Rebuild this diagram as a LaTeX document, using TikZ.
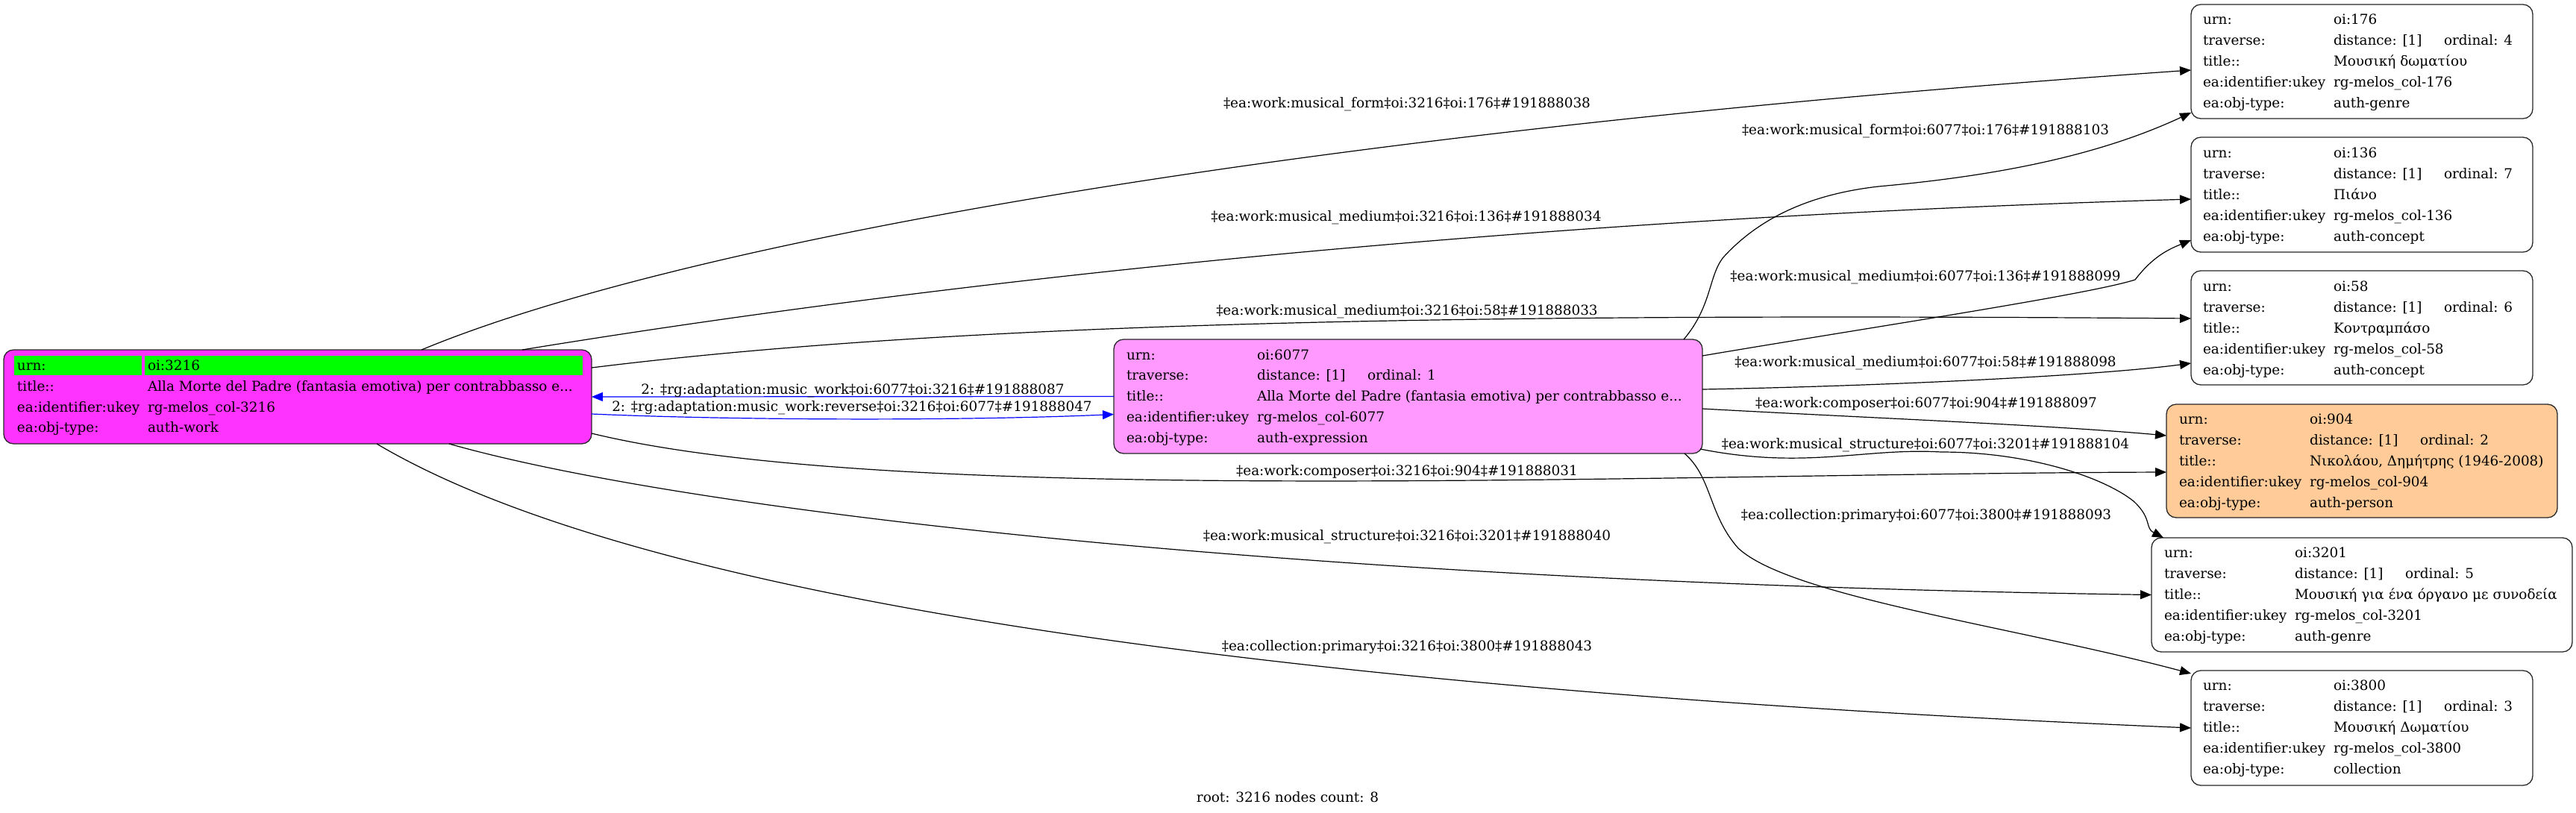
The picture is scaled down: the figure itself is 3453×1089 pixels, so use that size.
\documentclass[tikz,border=0pt]{standalone}
\usepackage{fontspec}
\setmainfont{DejaVu Serif}
\usetikzlibrary{arrows.meta,fit,calc}

\newcommand{\recfont}{\fontsize{9.2pt}{11pt}\selectfont}
\definecolor{workmag}{HTML}{FF33FF}
\definecolor{exprpink}{HTML}{FF99FF}
\definecolor{personpeach}{HTML}{FFCC99}
\definecolor{urngreen}{HTML}{00FF00}

\tikzset{
  txt/.style={inner sep=0pt, outer sep=0pt, anchor=base west, font=\recfont},
  lbl/.style={inner sep=0pt, outer sep=0pt, anchor=base, font=\recfont},
  box/.style={draw=black!85, line width=0.65pt, rounded corners=6.5pt, inner sep=0pt, outer sep=0pt},
  conn/.style={line width=0.6pt, -{Triangle[length=7.5pt,width=6pt]}},
  bconn/.style={conn, draw=blue},
}

% #1 prefix, #2 label x, #3 first baseline, #4 pitch, #5 urn, #6 ordinal, #7 title, #8 ukey, #9 type
\newcommand{\recfive}[9]{%
  \node[txt] (#1-k1) at (#2,#3) {urn:};
  \node[txt] (#1-v1) at ({#2+175},#3) {#5};
  \node[txt] (#1-k2) at (#2,{#3+#4}) {traverse:};
  \node[txt] (#1-v2) at ({#2+175},{#3+#4}) {distance: [1]};
  \node[txt] (#1-o2) at ({#2+323},{#3+#4}) {ordinal: #6};
  \node[txt] (#1-k3) at (#2,{#3+2*#4}) {title::};
  \node[txt] (#1-v3) at ({#2+175},{#3+2*#4}) {#7};
  \node[txt] (#1-k4) at (#2,{#3+3*#4}) {ea:identifier:ukey};
  \node[txt] (#1-v4) at ({#2+175},{#3+3*#4}) {#8};
  \node[txt] (#1-k5) at (#2,{#3+4*#4}) {ea:obj-type:};
  \node[txt] (#1-v5) at ({#2+175},{#3+4*#4}) {#9};
}

\begin{document}
\begin{tikzpicture}[x=0.5pt,y=-0.5pt]
\useasboundingbox (0,0) rectangle (3453,1089);

% ---------- record boxes ----------
\node[box, fill=workmag, fit={(5,469) (793,595)}] (n3216) {};
\node[box, fill=exprpink, fit={(1493,455) (2282,608)}] (n6077) {};
\node[box, fill=white, fit={(2937,6) (3395,159)}] (n176) {};
\node[box, fill=white, fit={(2937,184) (3395,338)}] (n136) {};
\node[box, fill=white, fit={(2937,363) (3395,516)}] (n58) {};
\node[box, fill=personpeach, fit={(2904,542) (3428,694)}] (n904) {};
\node[box, fill=white, fit={(2884,721) (3448,874)}] (n3201) {};
\node[box, fill=white, fit={(2937,899) (3395,1053)}] (n3800) {};

% ---------- root record (4 rows) ----------
\fill[urngreen] (19,477) rectangle (190,503);
\fill[urngreen] (194,477) rectangle (781,503);
\node[txt] (r-k1) at (23,496) {urn:};
\node[txt] (r-v1) at (198,496) {oi:3216};
\node[txt] (r-k2) at (23,524) {title::};
\node[txt] (r-v2) at (198,524) {Alla Morte del Padre (fantasia emotiva) per contrabbasso e...};
\node[txt] (r-k3) at (23,552) {ea:identifier:ukey};
\node[txt] (r-v3) at (198,552) {rg-melos\_col-3216};
\node[txt] (r-k4) at (23,579) {ea:obj-type:};
\node[txt] (r-v4) at (198,579) {auth-work};

% ---------- other records ----------
\recfive{e}{1510}{482}{27.75}{oi:6077}{1}{Alla Morte del Padre (fantasia emotiva) per contrabbasso e...}{rg-melos\_col-6077}{auth-expression}
\recfive{a}{2953}{32}{28}{oi:176}{4}{Μουσική δωματίου}{rg-melos\_col-176}{auth-genre}
\recfive{b}{2953}{211}{28}{oi:136}{7}{Πιάνο}{rg-melos\_col-136}{auth-concept}
\recfive{c}{2953}{390}{28}{oi:58}{6}{Κοντραμπάσο}{rg-melos\_col-58}{auth-concept}
\recfive{d}{2921}{568}{28}{oi:904}{2}{Νικολάου, Δημήτρης (1946-2008)}{rg-melos\_col-904}{auth-person}
\recfive{f}{2901}{747}{28}{oi:3201}{5}{Μουσική για ένα όργανο με συνοδεία}{rg-melos\_col-3201}{auth-genre}
\recfive{g}{2953}{925}{28}{oi:3800}{3}{Μουσική Δωματίου}{rg-melos\_col-3800}{collection}

% ---------- edges from 3216 ----------
\draw[conn] ([xshift=280pt]n3216.north west) .. controls (900,330) and (1700,180) .. ([yshift=-44pt]n176.north west);
\draw[conn] ([xshift=347.5pt]n3216.north west) .. controls (1000,420) and (1800,300) .. ([yshift=-41.5pt]n136.north west);
\draw[conn] ([yshift=-12pt]n3216.north east) .. controls (1300,430) and (2000,420) .. ([yshift=-32pt]n58.north west);
\draw[conn] ([yshift=-56pt]n3216.north east) .. controls (1200,680) and (2200,635) .. ([yshift=-45.5pt]n904.north west);
\draw[conn] ([xshift=298.5pt]n3216.south west) .. controls (900,680) and (1700,780) .. (n3201.west);
\draw[conn] ([xshift=250pt]n3216.south west) .. controls (800,770) and (1500,915) .. (n3800.west);

% ---------- blue edges ----------
\draw[bconn] (n6077.west) -- (n3216.east);
\draw[bconn] ([yshift=-11.5pt]n3216.east) .. controls (1000,564) and (1300,564) .. ([yshift=-12pt]n6077.west);

% ---------- edges from 6077 ----------
\draw[conn] ([xshift=-12.5pt]n6077.north east) .. controls (2295,410) and (2290,370) .. (2310,345)
   .. controls (2360,290) and (2430,260) .. (2518,250)
   .. controls (2650,238) and (2800,215) .. ([yshift=-72.5pt]n176.north west);
\draw[conn] ([yshift=-11pt]n6077.north east) .. controls (2500,440) and (2800,395) .. (2862,375)
   .. controls (2885,345) and (2905,335) .. ([yshift=-69pt]n136.north west);
\draw[conn] ([yshift=-33.5pt]n6077.north east) .. controls (2500,518) and (2800,505) .. ([yshift=-62pt]n58.north west);
\draw[conn] ([yshift=-46.5pt]n6077.north east) .. controls (2500,560) and (2750,570) .. ([yshift=-21pt]n904.north west);
\draw[conn] ([xshift=-1.5pt,yshift=-73.5pt]n6077.north east) .. controls (2420,630) and (2500,600) .. (2602,606)
   .. controls (2720,606) and (2820,640) .. (2860,672)
   .. controls (2885,695) and (2875,708) .. ([xshift=8pt]n3201.north west);
\draw[conn] ([xshift=-12pt]n6077.south east) .. controls (2295,640) and (2290,690) .. (2330,735)
   .. controls (2400,800) and (2700,840) .. ([yshift=-2pt]n3800.north west);

% ---------- edge labels ----------
\node[lbl] (l038) at (1886,144) {‡ea:work:musical\_form‡oi:3216‡oi:176‡\#191888038};
\node[lbl] (l034) at (1885,296) {‡ea:work:musical\_medium‡oi:3216‡oi:136‡\#191888034};
\node[lbl] (l033) at (1886,422) {‡ea:work:musical\_medium‡oi:3216‡oi:58‡\#191888033};
\node[lbl] (l031) at (1886,637) {‡ea:work:composer‡oi:3216‡oi:904‡\#191888031};
\node[lbl] (l040) at (1886,724) {‡ea:work:musical\_structure‡oi:3216‡oi:3201‡\#191888040};
\node[lbl] (l043) at (1886,872) {‡ea:collection:primary‡oi:3216‡oi:3800‡\#191888043};
\node[lbl] (l087) at (1143,528) {2: ‡rg:adaptation:music\_work‡oi:6077‡oi:3216‡\#191888087};
\node[lbl] (l047) at (1142,551) {2: ‡rg:adaptation:music\_work:reverse‡oi:3216‡oi:6077‡\#191888047};
\node[lbl] (l103) at (2581,180) {‡ea:work:musical\_form‡oi:6077‡oi:176‡\#191888103};
\node[lbl] (l099) at (2581,376) {‡ea:work:musical\_medium‡oi:6077‡oi:136‡\#191888099};
\node[lbl] (l098) at (2581,491) {‡ea:work:musical\_medium‡oi:6077‡oi:58‡\#191888098};
\node[lbl] (l097) at (2582,546) {‡ea:work:composer‡oi:6077‡oi:904‡\#191888097};
\node[lbl] (l104) at (2581,601) {‡ea:work:musical\_structure‡oi:6077‡oi:3201‡\#191888104};
\node[lbl] (l093) at (2582,696) {‡ea:collection:primary‡oi:6077‡oi:3800‡\#191888093};

\node[lbl] (rootlbl) at (1726,1075) {root: 3216 nodes count: 8};
\end{tikzpicture}
\end{document}
